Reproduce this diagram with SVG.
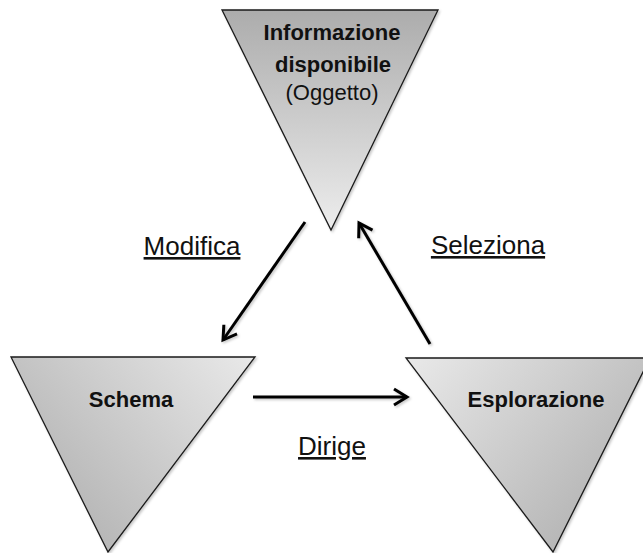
<svg xmlns="http://www.w3.org/2000/svg" width="643" height="553" viewBox="0 0 643 553">
<style>
.tri{stroke:#1a1a1a;stroke-width:1.3;stroke-linejoin:miter;filter:url(#sh)}
.bold{font-family:"Liberation Sans",Arial,sans-serif;font-weight:bold;font-size:22px;fill:#111;text-anchor:middle}
.reg{font-family:"Liberation Sans",Arial,sans-serif;font-size:22px;fill:#111;text-anchor:middle}
.lbl{font-family:"Liberation Sans",Arial,sans-serif;font-size:26px;fill:#111;text-anchor:middle;text-decoration:underline}
.arr{stroke:#000;stroke-width:3;fill:none;marker-end:url(#ah);filter:url(#sh)}
</style>
<defs>
<linearGradient id="gTop" x1="0" y1="0" x2="0" y2="1">
<stop offset="0" stop-color="#acacac"/>
<stop offset="1" stop-color="#ededed"/>
</linearGradient>
<linearGradient id="gLeft" x1="0" y1="0.7" x2="1" y2="0">
<stop offset="0" stop-color="#b0b0b0"/>
<stop offset="1" stop-color="#e9e9e9"/>
</linearGradient>
<linearGradient id="gRight" x1="0" y1="0" x2="1" y2="0.7">
<stop offset="0" stop-color="#e9e9e9"/>
<stop offset="1" stop-color="#b0b0b0"/>
</linearGradient>
<filter id="sh" filterUnits="userSpaceOnUse" x="0" y="0" width="660" height="570">
<feDropShadow dx="1.5" dy="1.5" stdDeviation="1.2" flood-color="#000" flood-opacity="0.22"/>
</filter>
<marker id="ah" markerUnits="userSpaceOnUse" markerWidth="20" markerHeight="22" viewBox="-17 -11 20 22" refX="0" refY="0" orient="auto">
<path d="M-13,-8 L0,0 L-13,8" stroke="#000" stroke-width="3" fill="none" stroke-linejoin="miter"/>
</marker>
</defs>
<g id="info">
<polygon class="tri" fill="url(#gTop)" points="222,10 438,10 331,230"/>
<text class="bold" x="332" y="40">Informazione</text>
<text class="bold" x="333" y="72">disponibile</text>
<text class="reg" x="332" y="100">(Oggetto)</text>
</g>
<g id="schema">
<polygon class="tri" fill="url(#gLeft)" points="11,357 255,357 108,552"/>
<text class="bold" x="131" y="407">Schema</text>
</g>
<g id="esplorazione">
<polygon class="tri" fill="url(#gRight)" points="406,358 650,358 553,552"/>
<text class="bold" x="536" y="407">Esplorazione</text>
</g>
<g id="connectors">
<line class="arr" x1="305" y1="222" x2="223" y2="340"/>
<line class="arr" x1="430" y1="344" x2="359" y2="223"/>
<line class="arr" x1="253" y1="397" x2="407" y2="397"/>
<text class="lbl" x="192" y="255">Modifica</text>
<text class="lbl" x="488" y="254">Seleziona</text>
<text class="lbl" x="332" y="455">Dirige</text>
</g>
</svg>
